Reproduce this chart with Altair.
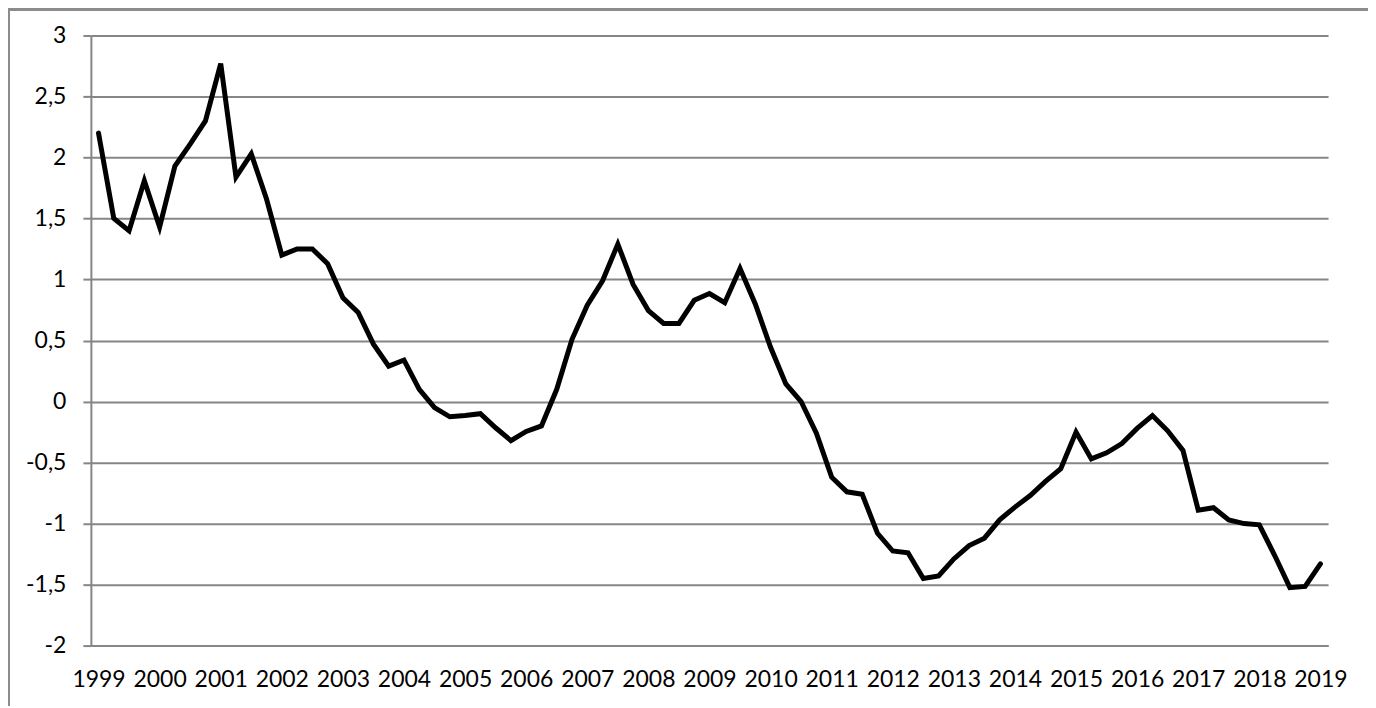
import pandas as pd
import altair as alt

# quarterly series, 1999Q1 .. 2019Q1
values = [
    2.20, 1.50, 1.40, 1.81, 1.43, 1.93, 2.11, 2.30,   # 1999-2000
    2.77, 1.84, 2.03, 1.66, 1.20, 1.25, 1.25, 1.13,   # 2001-2002
    0.85, 0.73, 0.47, 0.29, 0.34, 0.10, -0.05, -0.125,  # 2003-2004
    -0.115, -0.10, -0.215, -0.32, -0.245, -0.20, 0.10, 0.51,  # 2005-2006
    0.79, 0.99, 1.29, 0.96, 0.745, 0.64, 0.64, 0.83,  # 2007-2008
    0.885, 0.81, 1.09, 0.80, 0.445, 0.145, 0.0, -0.26,  # 2009-2010
    -0.62, -0.74, -0.76, -1.08, -1.225, -1.24, -1.45, -1.43,  # 2011-2012
    -1.29, -1.18, -1.12, -0.97, -0.865, -0.77, -0.655, -0.55,  # 2013-2014
    -0.25, -0.47, -0.42, -0.345, -0.22, -0.115, -0.24, -0.40,  # 2015-2016
    -0.89, -0.87, -0.97, -1.00, -1.01, -1.26, -1.525, -1.515,  # 2017-2018
    -1.33,  # 2019
]
years = list(range(1999, 2020))
y_ticks = [-2, -1.5, -1, -0.5, 0, 0.5, 1, 1.5, 2, 2.5, 3]

df = pd.DataFrame({'q': list(range(len(values))), 'value': values})

grey = '#868686'
font = 'Lato'

line = alt.Chart(df).mark_line(
    color='black', strokeWidth=5, strokeCap='round', strokeJoin='miter'
).encode(
    alt.X('q', type='quantitative',
          scale=alt.Scale(domain=[-0.5, len(values) - 0.5], nice=False, zero=False),
          axis=alt.Axis(title=None, grid=False, ticks=False, tickSize=0,
                        values=[4 * i for i in range(len(years))],
                        labelExpr='toString(1999 + datum.value / 4)',
                        labelFont=font, labelFontSize=23, labelColor='black',
                        labelPadding=23, labelFlush=False, labelOverlap=False,
                        domainColor=grey, domainWidth=2)),
    alt.Y('value', type='quantitative',
          scale=alt.Scale(domain=[-2, 3], nice=False, zero=False),
          axis=alt.Axis(title=None, values=y_ticks, grid=True,
                        gridColor=grey, gridWidth=2, gridOpacity=1,
                        tickColor=grey, tickWidth=2, tickSize=8,
                        domainColor=grey, domainWidth=2,
                        labelExpr="replace(toString(datum.value), '.', ',')",
                        labelFont=font, labelFontSize=23, labelColor='black',
                        labelPadding=17, labelOverlap=False, labelFlush=False)),
)

# chart area border (top and left edges)
top_border = alt.Chart(df).mark_rule(color='#8c8c8c', strokeWidth=1.5).encode(
    x=alt.value(-83), x2=alt.value(1239 + 40), y=alt.value(-26)
)
left_border = alt.Chart(df).mark_rule(color='#8c8c8c', strokeWidth=1.5).encode(
    x=alt.value(-82), y=alt.value(-27), y2=alt.value(611 + 60)
)

chart = alt.layer(line, top_border, left_border).properties(
    width=1239,
    height=611,
    padding={'left': 83, 'top': 27, 'right': 40, 'bottom': 60},
    autosize=alt.AutoSizeParams(type='none'),
).configure_view(stroke=None)

chart.save("out.html", embed_options={"renderer": "svg", "actions": False})
